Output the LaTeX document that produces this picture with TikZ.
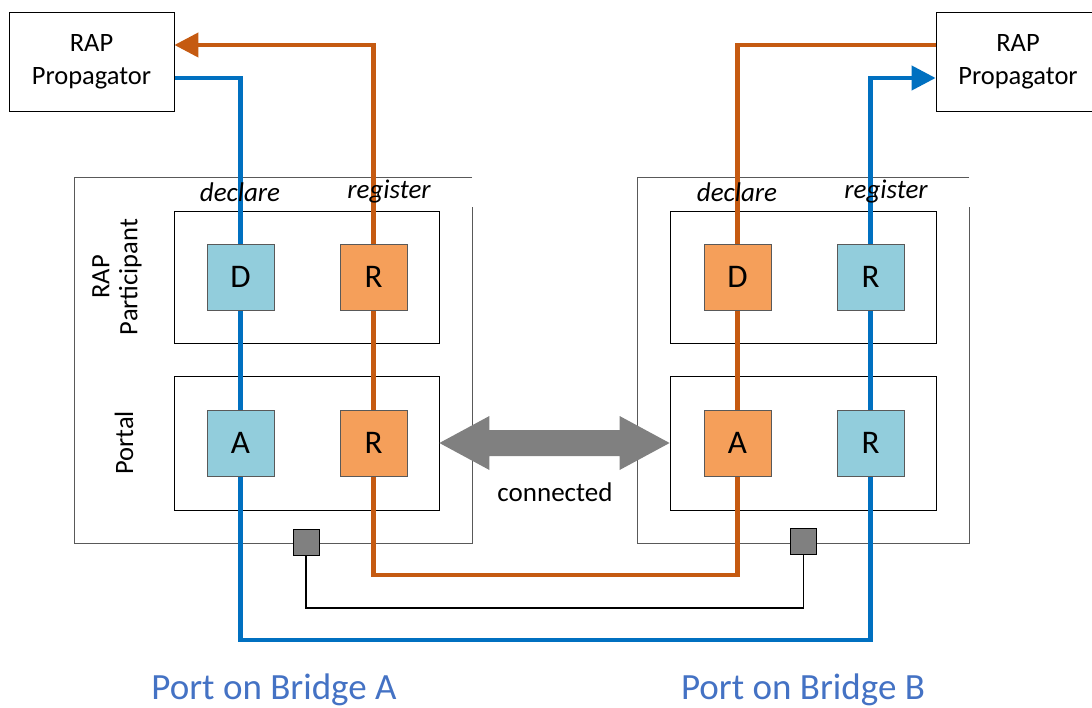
\documentclass[tikz,border=0pt]{standalone}
\usepackage{fontspec}
\setmainfont{Carlito}
\usetikzlibrary{arrows.meta,calc}
\definecolor{lineblue}{HTML}{0070C0}
\definecolor{lineorange}{HTML}{C55A11}
\definecolor{fillblue}{HTML}{92CDDC}
\definecolor{fillorange}{HTML}{F59F5A}
\definecolor{arrowgray}{HTML}{808080}
\definecolor{labelblue}{HTML}{4472C4}
\definecolor{boxline}{HTML}{595959}
\pgfdeclarelayer{boxes}
\pgfdeclarelayer{lines}
\pgfsetlayers{boxes,lines,main}
\begin{document}
\begin{tikzpicture}[x=1pt,y=-1pt,
  propbox/.style={draw=black,line width=0.8pt,minimum height=99pt,align=center,font=\fontsize{26.5}{33}\selectfont},
  outerbox/.style={draw=none,inner sep=0pt},
  innerbox/.style={draw=black,line width=0.8pt,inner sep=0pt},
  sqblue/.style={draw=boxline,line width=0.9pt,fill=fillblue,minimum width=67pt,minimum height=66pt,inner sep=0pt,font=\fontsize{33}{33}\selectfont},
  sqorange/.style={sqblue,fill=fillorange},
  portsq/.style={draw=black,line width=0.9pt,fill=arrowgray,minimum width=26pt,minimum height=26pt,inner sep=0pt},
  bluewire/.style={draw=lineblue,line width=4.2pt},
  orangewire/.style={draw=lineorange,line width=4.2pt},
  blackwire/.style={draw=black,line width=1.6pt},
  tip/.style={-{Triangle[length=24pt,width=24pt]}},
  portlabel/.style={font=\itshape\fontsize{27}{27}\selectfont},
  sidelabel/.style={rotate=90,align=center,font=\fontsize{26.5}{28}\selectfont},
  bridgelabel/.style={text=labelblue,font=\fontsize{37}{37}\selectfont}
]
\useasboundingbox (0,0) rectangle (1092,708);
\clip (0,0) rectangle (1092,708);

% propagators
\node[propbox,minimum width=165pt] (propL) at (91.5,61.5) {RAP\\Propagator};
\node[propbox,minimum width=164pt] (propR) at (1018,61.5) {RAP\\Propagator};

% outer and inner boxes
\begin{pgfonlayer}{boxes}
\node[outerbox,minimum width=397pt,minimum height=365pt] (outL) at (273.5,360.5) {};
\node[outerbox,minimum width=331pt,minimum height=365pt] (outR) at (803.5,360.5) {};
\draw[boxline,line width=0.8pt] (outL.north east) -- (outL.north west) -- (outL.south west) -- (outL.south east) -- ($(outL.north east)+(0,29)$);
\draw[boxline,line width=0.8pt] (outR.north east) -- (outR.north west) -- (outR.south west) -- (outR.south east) -- ($(outR.north east)+(0,29)$);
\node[innerbox,minimum width=265pt,minimum height=132pt] (partL) at (306.5,277) {};
\node[innerbox,minimum width=265pt,minimum height=134pt] (portL) at (306.5,443) {};
\node[innerbox,minimum width=266pt,minimum height=132pt] (partR) at (803,277) {};
\node[innerbox,minimum width=266pt,minimum height=134pt] (portR) at (803,443) {};
\end{pgfonlayer}

% squares
\node[sqblue] (LD) at (240.5,277) {D};
\node[sqorange] (LR) at (373.5,277) {R};
\node[sqblue] (LA) at (240.5,443) {A};
\node[sqorange] (LRp) at (373.5,443) {R};
\node[sqorange] (RD) at (737.5,277) {D};
\node[sqblue] (RR) at (870.5,277) {R};
\node[sqorange] (RA) at (737.5,443) {A};
\node[sqblue] (RRp) at (870.5,443) {R};

% small port squares
\node[portsq] (gL) at (306,542) {};
\node[portsq] (gR) at (803.5,541) {};

% wire levels
\coordinate (orangelevel) at (0,575);
\coordinate (blacklevel) at (0,608);
\coordinate (bluelevel) at (0,640);

\begin{pgfonlayer}{lines}
% left side wires
\draw[bluewire] ($(propL.east)+(0,16.5)$) -| (LD.north);
\draw[bluewire] (LD.south) -- (LA.north);
\draw[orangewire,tip] (LR.north) |- ($(propL.east)+(0,-16.5)$);
\draw[orangewire] (LR.south) -- (LRp.north);
% right side wires
\draw[orangewire] ($(propR.west)+(0,-16.5)$) -| (RD.north);
\draw[orangewire] (RD.south) -- (RA.north);
\draw[bluewire,tip] (RR.north) |- ($(propR.west)+(0,16.5)$);
\draw[bluewire] (RR.south) -- (RRp.north);
% bottom wires
\draw[orangewire,line join=miter] (LRp.south) -- (LRp.south |- orangelevel) -| (RA.south);
\draw[bluewire,line join=miter] (LA.south) -- (LA.south |- bluelevel) -| (RRp.south);
\draw[blackwire] (gL.south) -- (gL.south |- blacklevel) -| (gR.south);
\end{pgfonlayer}

% connected double arrow
\coordinate (daL) at (portL.east);
\coordinate (daR) at (portR.west);
\fill[arrowgray] (daL) -- ($(daL)+(50,-27)$) -- ($(daL)+(50,-13)$) -- ($(daR)+(-50,-13)$) -- ($(daR)+(-50,-27)$) -- (daR)
  -- ($(daR)+(-50,27)$) -- ($(daR)+(-50,13)$) -- ($(daL)+(50,13)$) -- ($(daL)+(50,27)$) -- cycle;
\node[font=\fontsize{27}{27}\selectfont] (conn) at (555,492) {connected};

% labels
\node[portlabel] (declL) at (240,192) {declare};
\node[portlabel] (regL) at (389,192) {register};
\node[portlabel] (declR) at (737,192) {declare};
\node[portlabel] (regR) at (886,192) {register};
\node[sidelabel] (rapp) at (117,277) {RAP\\Participant};
\node[sidelabel] (portal) at (124,443) {Portal};

\node[bridgelabel] (bridgeA) at (274,690) {Port on Bridge A};
\node[bridgelabel] (bridgeB) at (803,690) {Port on Bridge B};
\end{tikzpicture}
\end{document}
